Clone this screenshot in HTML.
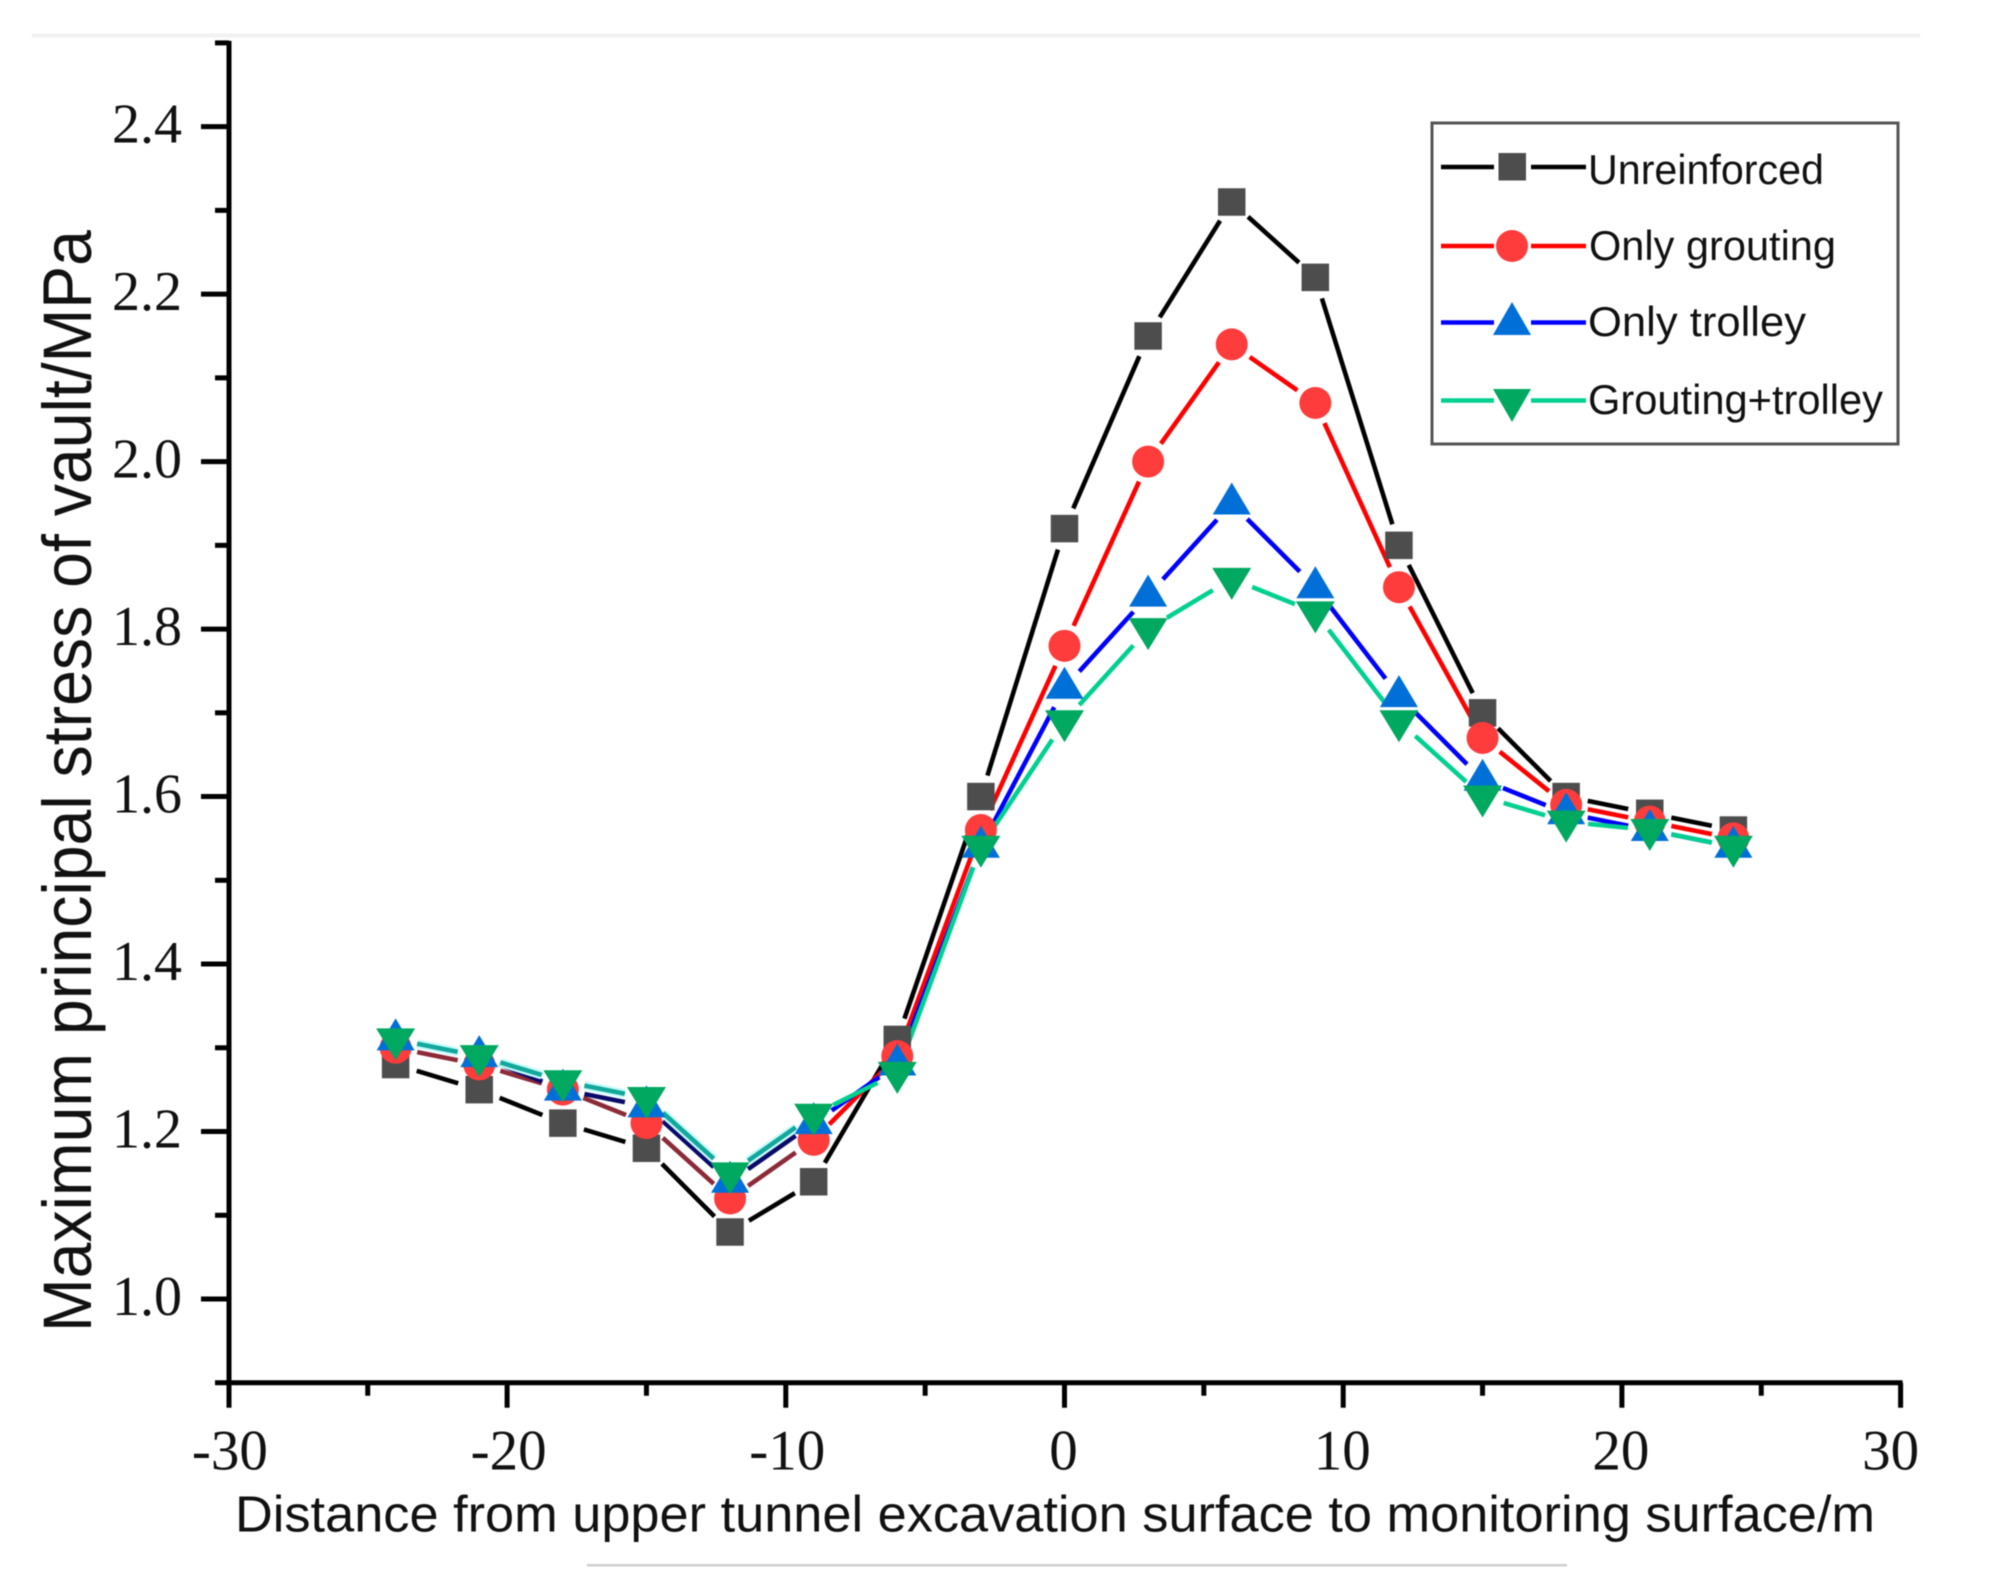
<!DOCTYPE html>
<html lang="en">
<head>
<meta charset="utf-8">
<title>Maximum principal stress of vault</title>
<style>
html,body{margin:0;padding:0;background:#fff;}
svg{display:block;filter:blur(0.6px);}
text{fill:#111;}
.serif{font-family:"Liberation Serif",serif;}
.sans{font-family:"Liberation Sans",sans-serif;}
</style>
</head>
<body>
<svg id="chart" xmlns="http://www.w3.org/2000/svg" width="1994" height="1588" viewBox="0 0 1994 1588">
  <defs><clipPath id="page-clip"><rect x="0" y="0" width="1921" height="1588"/></clipPath></defs>
  <rect x="32" y="33.5" width="1888" height="4" fill="#f1f1f1"/>
  <rect x="587" y="1564" width="980" height="2.5" fill="#cfcfcf"/>
  <g id="axes" clip-path="url(#page-clip)"></g>
  <g id="series"></g>
  <text class="sans" font-size="69" transform="translate(91,1332) rotate(-90)" textLength="1102" lengthAdjust="spacingAndGlyphs">Maximum principal stress of vault/MPa</text>
  <text class="sans" font-size="51" x="235" y="1531.5" textLength="1640" lengthAdjust="spacingAndGlyphs">Distance from upper tunnel excavation surface to monitoring surface/m</text>
  <g id="legend">
    <rect x="1432" y="123" width="466" height="321" fill="#fff" stroke="#555" stroke-width="3"/>
    <g>
      <path d="M1441 167H1494M1531 167H1586" stroke="#000" stroke-width="4.6" fill="none"/>
      <rect x="1498.5" y="153" width="27.5" height="27.5" fill="#4d4d4d"/>
      <text class="sans" font-size="42" x="1588" y="184" textLength="236" lengthAdjust="spacingAndGlyphs">Unreinforced</text>
    </g>
    <g>
      <path d="M1441 246H1494M1531 246H1586" stroke="#ff0000" stroke-width="4.6" fill="none"/>
      <circle cx="1512" cy="246" r="16" fill="#ff3c3c"/>
      <text class="sans" font-size="42" x="1589" y="260" textLength="247" lengthAdjust="spacingAndGlyphs">Only grouting</text>
    </g>
    <g>
      <path d="M1441 322.5H1494M1531 322.5H1586" stroke="#0000ff" stroke-width="4.6" fill="none"/>
      <polygon points="1512,302 1531,335 1493,335" fill="#0070d8"/>
      <text class="sans" font-size="42" x="1588" y="336" textLength="218" lengthAdjust="spacingAndGlyphs">Only trolley</text>
    </g>
    <g>
      <path d="M1441 400.5H1494M1531 400.5H1586" stroke="#00d090" stroke-width="4.6" fill="none"/>
      <polygon points="1493,389 1531,389 1512,422" fill="#00a860"/>
      <text class="sans" font-size="42" x="1588" y="414" textLength="295" lengthAdjust="spacingAndGlyphs">Grouting+trolley</text>
    </g>
  </g>
</svg>
<script>
const categories = [-24,-21,-18,-15,-12,-9,-6,-3,0,3,6,9,12,15,18,21,24];
const unreinforced = [1.28,1.25,1.21,1.18,1.08,1.14,1.31,1.60,1.92,2.15,2.31,2.22,1.90,1.70,1.60,1.58,1.56];
const onlyGrouting = [1.30,1.28,1.25,1.21,1.12,1.19,1.29,1.56,1.78,2.00,2.14,2.07,1.85,1.67,1.59,1.57,1.55];
const onlyTrolley = [1.31,1.29,1.25,1.23,1.14,1.21,1.28,1.54,1.73,1.84,1.95,1.85,1.72,1.62,1.58,1.56,1.54];
const groutingTrolley = [1.31,1.29,1.26,1.24,1.15,1.22,1.27,1.54,1.69,1.80,1.86,1.82,1.69,1.60,1.57,1.56,1.54];
const xMajorTicks = [-30,-20,-10,0,10,20,30];
const xMinorTicks = [-25,-15,-5,5,15,25];
const yMajorTicks = ['1.0','1.2','1.4','1.6','1.8','2.0','2.2','2.4'];
const yMinorTicks = [0.9,1.1,1.3,1.5,1.7,1.9,2.1,2.3,2.5];

const NS = 'http://www.w3.org/2000/svg';
const sx = v => 1064.5 + 27.87 * v;
const sy = v => 1299 - (v - 1) * 837.4;
const axisLeft = 229;
const axisBottom = sy(0.9);
const AXIS_W = 5;

function make(tag, attrs, parent) {
  const node = document.createElementNS(NS, tag);
  for (const k in attrs) node.setAttribute(k, attrs[k]);
  parent.appendChild(node);
  return node;
}

const axes = document.getElementById('axes');
const xAxisLine = make('line', {x1: axisLeft - 2, x2: sx(30) + 2, y1: axisBottom, y2: axisBottom, stroke: '#000', 'stroke-width': AXIS_W}, axes);


const yAxisLine = make('line', {x1: axisLeft, x2: axisLeft, y1: sy(2.5) - 2, y2: axisBottom + 2, stroke: '#000', 'stroke-width': AXIS_W}, axes);



function xLabelShift(v) {
  if (v === 30) return -10;
  return v < 0 ? 1.5 : -1;
}

xMajorTicks.forEach(v => {
  const x = v === -30 ? axisLeft : sx(v);
  const tick = make('line', {x1: x, x2: x, y1: axisBottom, y2: axisBottom + 25, stroke: '#000', 'stroke-width': AXIS_W}, axes);
  
  
  const label = make('text', {x: sx(v) + xLabelShift(v), y: 1469.5, 'text-anchor': 'middle', class: 'serif', 'font-size': 57}, axes);
  label.textContent = String(v);
  
  
});
xMinorTicks.forEach(v => {
  const tick = make('line', {x1: sx(v), x2: sx(v), y1: axisBottom, y2: axisBottom + 13, stroke: '#000', 'stroke-width': AXIS_W}, axes);
  
  
});
yMajorTicks.forEach(t => {
  const y = sy(parseFloat(t));
  const tick = make('line', {x1: axisLeft - 28, x2: axisLeft, y1: y, y2: y, stroke: '#000', 'stroke-width': AXIS_W}, axes);
  
  
  const label = make('text', {x: 182, y: y + 16, 'text-anchor': 'end', class: 'serif', 'font-size': 56}, axes);
  label.textContent = t;
  
  
});
yMinorTicks.forEach(v => {
  const y = sy(v);
  const tick = make('line', {x1: axisLeft - 14, x2: axisLeft, y1: y, y2: y, stroke: '#000', 'stroke-width': AXIS_W}, axes);
  
  
});

const GAP = 22;
const LEFT_BAND_END = 4;
function drawLine(values, color, leftColor, halo, group) {
  for (let i = 0; i < values.length - 1; i++) {
    const x1 = sx(categories[i]), y1 = sy(values[i]);
    const x2 = sx(categories[i + 1]), y2 = sy(values[i + 1]);
    const len = Math.hypot(x2 - x1, y2 - y1);
    if (len <= GAP * 2) continue;
    const ux = (x2 - x1) / len, uy = (y2 - y1) / len;
    const inBand = i <= LEFT_BAND_END;
    const coords = {x1: x1 + ux * GAP, y1: y1 + uy * GAP, x2: x2 - ux * GAP, y2: y2 - uy * GAP};
    if (halo && inBand) {
      const glow = make('line', Object.assign({stroke: '#c8fbfb', 'stroke-width': 9}, coords), group);
      
      
    }
    const seg = make('line', Object.assign({stroke: inBand ? leftColor : color, 'stroke-width': 4.6}, coords), group);
    
    
  }
}

const series = document.getElementById('series');
const lineGroup = make('g', {}, series);


drawLine(unreinforced, '#000000', '#000000', false, lineGroup);
drawLine(onlyGrouting, '#ff0000', '#8c2a38', false, lineGroup);
drawLine(onlyTrolley, '#0000ff', '#0a0a6a', false, lineGroup);
drawLine(groutingTrolley, '#00d090', '#12a89c', true, lineGroup);

categories.forEach((c, i) => {
  const x = sx(c);
  const square = make('rect', {x: x - 13.75, y: sy(unreinforced[i]) - 13.75, width: 27.5, height: 27.5, fill: '#4d4d4d'}, series);
  
  
});
categories.forEach((c, i) => {
  const circle = make('circle', {cx: sx(c), cy: sy(onlyGrouting[i]), r: 16, fill: '#ff3c3c'}, series);
  
  
});
categories.forEach((c, i) => {
  const x = sx(c), y = sy(onlyTrolley[i]);
  const tri = make('polygon', {points: `${x},${y - 21} ${x + 19},${y + 11} ${x - 19},${y + 11}`, fill: '#0070d8'}, series);
  
  
});
categories.forEach((c, i) => {
  const x = sx(c), y = sy(groutingTrolley[i]);
  const tri = make('polygon', {points: `${x - 19.5},${y - 11} ${x + 19.5},${y - 11} ${x},${y + 21}`, fill: '#00a860'}, series);
  
  
});
</script>
</body>
</html>
